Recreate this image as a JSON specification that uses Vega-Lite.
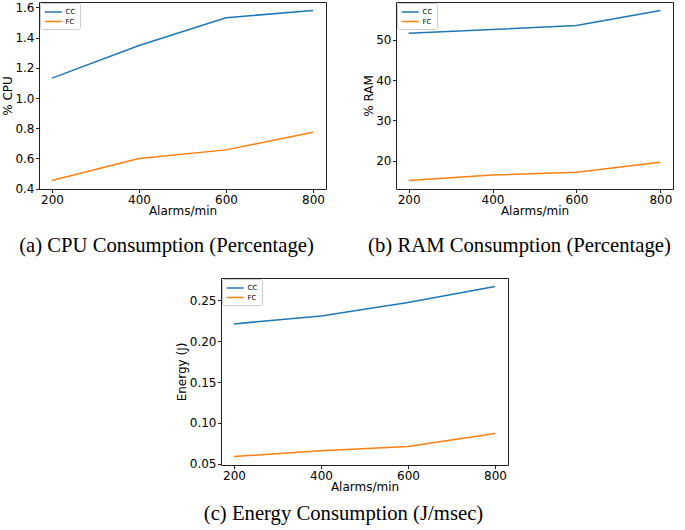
{
  "$schema": "https://vega.github.io/schema/vega-lite/v6.json",
  "padding": {"left": 0, "top": 0, "right": 5, "bottom": 3},
  "background": "white",
  "datasets": {
    "cpu": [
      {"series": "CC", "alarms": 200, "value": 1.132},
      {"series": "CC", "alarms": 400, "value": 1.348},
      {"series": "CC", "alarms": 600, "value": 1.532},
      {"series": "CC", "alarms": 800, "value": 1.580},
      {"series": "FC", "alarms": 200, "value": 0.454},
      {"series": "FC", "alarms": 400, "value": 0.600},
      {"series": "FC", "alarms": 600, "value": 0.657},
      {"series": "FC", "alarms": 800, "value": 0.774}
    ],
    "ram": [
      {"series": "CC", "alarms": 200, "value": 51.66},
      {"series": "CC", "alarms": 400, "value": 52.57},
      {"series": "CC", "alarms": 600, "value": 53.56},
      {"series": "CC", "alarms": 800, "value": 57.29},
      {"series": "FC", "alarms": 200, "value": 15.03},
      {"series": "FC", "alarms": 400, "value": 16.4},
      {"series": "FC", "alarms": 600, "value": 17.1},
      {"series": "FC", "alarms": 800, "value": 19.59}
    ],
    "energy": [
      {"series": "CC", "alarms": 200, "value": 0.2213},
      {"series": "CC", "alarms": 400, "value": 0.2311},
      {"series": "CC", "alarms": 600, "value": 0.2475},
      {"series": "CC", "alarms": 800, "value": 0.2672},
      {"series": "FC", "alarms": 200, "value": 0.0586},
      {"series": "FC", "alarms": 400, "value": 0.0656},
      {"series": "FC", "alarms": 600, "value": 0.0709},
      {"series": "FC", "alarms": 800, "value": 0.0869}
    ],
    "blank": [{"t": ""}]
  },
  "config": {
    "font": "DejaVu Sans",
    "view": {"stroke": "#222222", "strokeWidth": 1},
    "axis": {
      "labelFont": "DejaVu Sans", "titleFont": "DejaVu Sans",
      "labelFontSize": 12, "titleFontSize": 12, "titleFontWeight": "normal",
      "labelColor": "#000000", "titleColor": "#000000", "tickColor": "#222222",
      "domain": false, "grid": false, "tickSize": 3.5, "labelPadding": 1.5, "titlePadding": 0.5
    },
    "legend": {
      "orient": "top-left", "offset": 1, "padding": 4, "strokeColor": "#cccccc",
      "fillColor": "white", "cornerRadius": 2, "symbolType": "M-1,0H3", "symbolSize": 72,
      "symbolStrokeWidth": 1.5, "labelFontSize": 7, "labelColor": "#000000", "title": null,
      "rowPadding": 1.5, "labelOffset": 11.5
    },
    "title": {
      "font": "Liberation Serif", "fontSize": 20.7, "fontWeight": "normal", "color": "#000000",
      "orient": "bottom", "anchor": "middle", "offset": 19
    },
    "line": {"strokeWidth": 1.5}
  },
  "spacing": 21,
  "resolve": {"scale": {"color": "independent", "x": "independent", "y": "independent"}, "legend": {"color": "independent"}},
  "vconcat": [
    {
      "spacing": 70,
      "bounds": "flush",
      "resolve": {"scale": {"color": "independent", "x": "independent", "y": "independent"}, "legend": {"color": "independent"}},
      "hconcat": [
        {
          "width": 287, "height": 187,
          "data": {"name": "cpu"},
          "title": {"text": "(a) CPU Consumption (Percentage)", "dx": -16},
          "mark": {"type": "line"},
          "encoding": {
            "x": {"field": "alarms", "type": "quantitative", "scale": {"domain": [170, 830], "nice": false, "zero": false}, "axis": {"values": [200, 400, 600, 800], "format": "d", "title": "Alarms/min"}},
            "y": {"field": "value", "type": "quantitative", "scale": {"domain": [0.398, 1.636], "nice": false, "zero": false}, "axis": {"values": [0.4, 0.6, 0.8, 1.0, 1.2, 1.4, 1.6], "format": ".1f", "title": "% CPU"}},
            "color": {"field": "series", "type": "nominal", "scale": {"domain": ["CC", "FC"], "range": ["#1f77b4", "#ff7f0e"]}}
          }
        },
        {
          "width": 277, "height": 187,
          "data": {"name": "ram"},
          "title": {"text": "(b) RAM Consumption (Percentage)", "dx": -15},
          "mark": {"type": "line"},
          "encoding": {
            "x": {"field": "alarms", "type": "quantitative", "scale": {"domain": [170, 830], "nice": false, "zero": false}, "axis": {"values": [200, 400, 600, 800], "format": "d", "title": "Alarms/min"}},
            "y": {"field": "value", "type": "quantitative", "scale": {"domain": [12.92, 59.4], "nice": false, "zero": false}, "axis": {"values": [20, 30, 40, 50], "format": "d", "title": "% RAM"}},
            "color": {"field": "series", "type": "nominal", "scale": {"domain": ["CC", "FC"], "range": ["#1f77b4", "#ff7f0e"]}}
          }
        }
      ]
    },
    {
      "spacing": 180,
      "bounds": "flush",
      "resolve": {"scale": {"color": "independent", "x": "independent", "y": "independent"}, "legend": {"color": "independent"}},
      "hconcat": [
        {
          "width": 2, "height": 187,
          "data": {"name": "blank"},
          "view": {"stroke": null},
          "mark": {"type": "text"},
          "encoding": {"text": {"field": "t"}}
        },
        {
          "width": 287, "height": 187,
          "data": {"name": "energy"},
          "title": {"text": "(c) Energy Consumption (J/msec)", "dx": -21, "offset": 11},
          "mark": {"type": "line"},
          "encoding": {
            "x": {"field": "alarms", "type": "quantitative", "scale": {"domain": [170, 830], "nice": false, "zero": false}, "axis": {"values": [200, 400, 600, 800], "format": "d", "title": "Alarms/min"}},
            "y": {"field": "value", "type": "quantitative", "scale": {"domain": [0.0482, 0.2776], "nice": false, "zero": false}, "axis": {"values": [0.05, 0.10, 0.15, 0.20, 0.25], "format": ".2f", "title": "Energy (J)"}},
            "color": {"field": "series", "type": "nominal", "scale": {"domain": ["CC", "FC"], "range": ["#1f77b4", "#ff7f0e"]}}
          }
        }
      ]
    }
  ]
}
